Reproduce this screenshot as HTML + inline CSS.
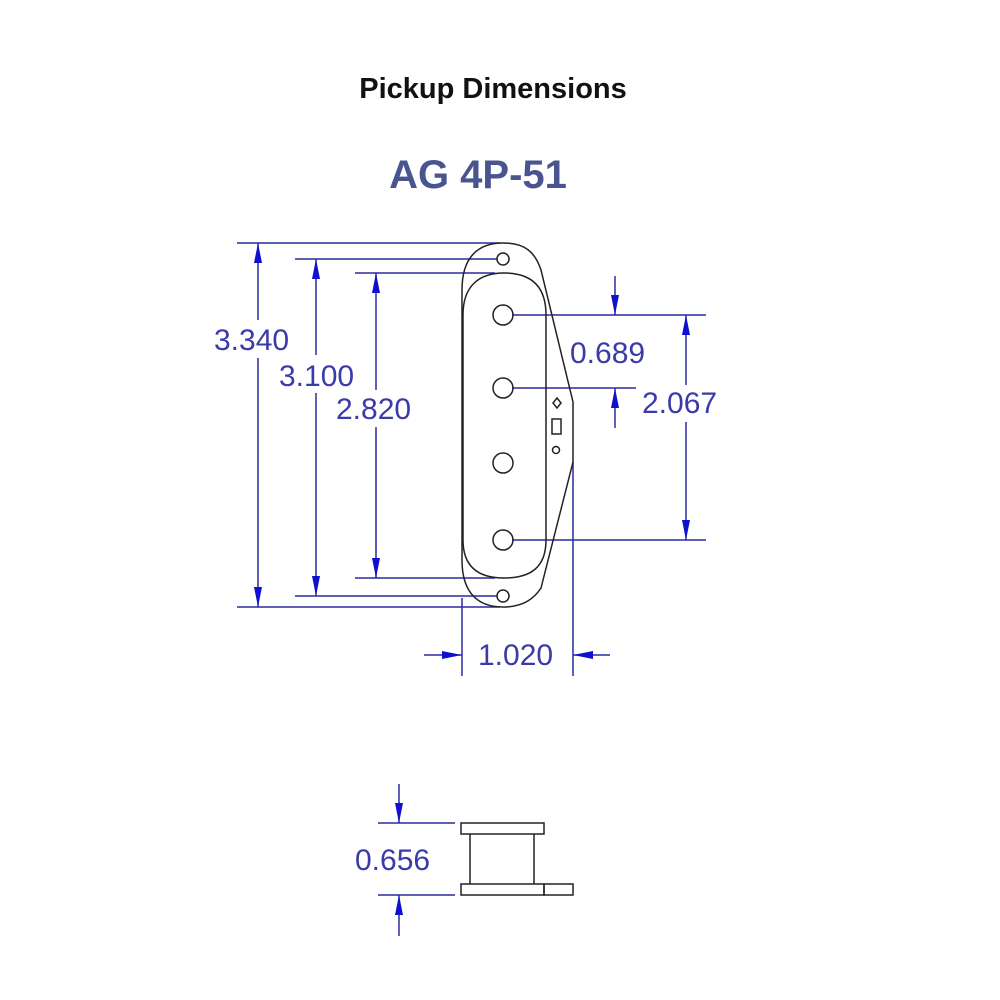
<!DOCTYPE html>
<html><head><style>body{margin:0;background:#fff}svg{display:block}</style></head><body>
<svg width="1000" height="1000" viewBox="0 0 1000 1000" xmlns="http://www.w3.org/2000/svg">
<defs>
<marker id="a" viewBox="0 0 20 8" refX="20" refY="4" markerWidth="20" markerHeight="8" markerUnits="userSpaceOnUse" orient="auto"><path d="M0,0 L20,4 L0,8 z" fill="#1010d0"/></marker>
</defs>
<text x="493" y="98" font-family="Liberation Sans, sans-serif" font-weight="bold" font-size="29" text-anchor="middle" fill="#111">Pickup Dimensions</text>
<text x="478" y="188" font-family="Liberation Sans, sans-serif" font-weight="bold" font-size="40" text-anchor="middle" fill="#4a5590">AG 4P-51</text>

<g stroke="#2a2aa0" stroke-width="1.5" fill="none">
<line x1="237" y1="243" x2="500" y2="243"/><line x1="237" y1="607" x2="500" y2="607"/>
<line x1="295" y1="259" x2="497" y2="259"/><line x1="295" y1="596" x2="497" y2="596"/>
<line x1="355" y1="273" x2="495" y2="273"/><line x1="355" y1="578" x2="495" y2="578"/>
<line x1="258" y1="320" x2="258" y2="243" marker-end="url(#a)"/><line x1="258" y1="358" x2="258" y2="607" marker-end="url(#a)"/>
<line x1="316" y1="355" x2="316" y2="259" marker-end="url(#a)"/><line x1="316" y1="393" x2="316" y2="596" marker-end="url(#a)"/>
<line x1="376" y1="390" x2="376" y2="273" marker-end="url(#a)"/><line x1="376" y1="427" x2="376" y2="578" marker-end="url(#a)"/>
<line x1="512" y1="315" x2="706" y2="315"/><line x1="512" y1="388" x2="636" y2="388"/><line x1="512" y1="540" x2="706" y2="540"/>
<line x1="686" y1="385" x2="686" y2="315" marker-end="url(#a)"/><line x1="686" y1="422" x2="686" y2="540" marker-end="url(#a)"/>
<line x1="615" y1="276" x2="615" y2="315" marker-end="url(#a)"/><line x1="615" y1="428" x2="615" y2="388" marker-end="url(#a)"/>
<line x1="462" y1="598" x2="462" y2="676"/><line x1="573" y1="462" x2="573" y2="676"/>
<line x1="424" y1="655" x2="462" y2="655" marker-end="url(#a)"/><line x1="610" y1="655" x2="573" y2="655" marker-end="url(#a)"/>
<line x1="378" y1="823" x2="455" y2="823"/><line x1="378" y1="895" x2="455" y2="895"/>
<line x1="399" y1="784" x2="399" y2="823" marker-end="url(#a)"/><line x1="399" y1="936" x2="399" y2="895" marker-end="url(#a)"/>
</g>
<g font-family="Liberation Sans, sans-serif" font-size="30" fill="#3a3aa8" font-weight="normal">
<text x="214" y="350">3.340</text>
<text x="279" y="386">3.100</text>
<text x="336" y="419">2.820</text>
<text x="570" y="363">0.689</text>
<text x="642" y="413">2.067</text>
<text x="478" y="665">1.020</text>
<text x="355" y="870">0.656</text>
</g>

<g stroke="#222" stroke-width="1.5" fill="none">
<path d="M503,243 C480,243 462,255 462,290 L462,560 C462,595 480,607 503,607 C525,607 535,597 541,588 L573,462 L573,402 L541,270 C535,252 525,243 503,243 Z"/>
<path d="M504,273 C480,273 463,285 463,315 L463,540 C463,568 480,578 504,578 C530,578 546,568 546,540 L546,315 C546,285 530,273 504,273 Z"/>
<circle cx="503" cy="259" r="6"/><circle cx="503" cy="596" r="6"/>
<circle cx="503" cy="315" r="10"/><circle cx="503" cy="388" r="10"/><circle cx="503" cy="463" r="10"/><circle cx="503" cy="540" r="10"/>
<path d="M557,398 L561,403 L557,408 L553,403 Z"/>
<rect x="552" y="419" width="9" height="15"/>
<circle cx="556" cy="450" r="3.5"/>
<rect x="461" y="823" width="83" height="11"/>
<line x1="470" y1="834" x2="470" y2="884"/><line x1="534" y1="834" x2="534" y2="884"/>
<rect x="461" y="884" width="83" height="11"/>
<rect x="544" y="884" width="29" height="11"/>
</g>
</svg>
</body></html>
